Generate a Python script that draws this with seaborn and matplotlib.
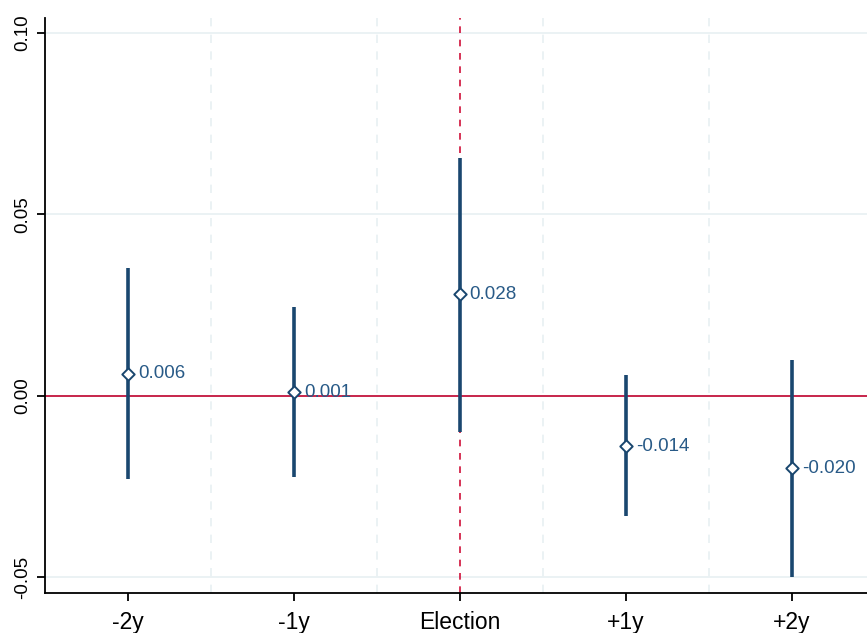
import numpy as np
import pandas as pd
import matplotlib
matplotlib.use("Agg")
import matplotlib.pyplot as plt
import seaborn as sns

# datos
periodos = ["-2y", "-1y", "Election", "+1y", "+2y"]
coef = [0.006, 0.001, 0.028, -0.014, -0.020]
ci_low = [-0.0231, -0.0223, -0.0099, -0.0331, -0.0499]
ci_high = [0.0353, 0.0245, 0.0656, 0.0058, 0.0099]
yticks = [-0.05, 0.00, 0.05, 0.10]
ytick_labels = ["-0.05", "0.00", "0.05", "0.10"]

navy = "#1a476f"
rojo = "#c8254b"
grid_col = "#e8f0f2"

sns.set_style("white")
plt.rcParams["font.family"] = ["Liberation Sans", "DejaVu Sans"]

df = pd.DataFrame({"periodo": periodos, "coef": coef, "lo": ci_low, "hi": ci_high})
df["x"] = np.arange(len(df))

fig = plt.figure(figsize=(8.67, 6.33), dpi=100)
ax = fig.add_axes([0.052, 0.0632, 0.948, 0.9084])

# grid
for y in yticks:
    ax.axhline(y, color=grid_col, lw=1.2, zorder=0)
for xm in np.arange(0.5, len(df) - 0.5, 1.0):
    ax.axvline(xm, color=grid_col, lw=1.2, ls=(0, (5, 5)), zorder=0)

ax.axhline(0, color=rojo, lw=1.4, zorder=1)
ax.axvline(2, color="#d0103a", lw=1.2, ls=(0, (4, 4)), zorder=1)

ax.vlines(df["x"], df["lo"], df["hi"], color=navy, lw=2.6, zorder=2)
sns.scatterplot(data=df, x="x", y="coef", marker="D", s=40, color="white",
                edgecolor=navy, linewidth=1.4, zorder=3, ax=ax, legend=False)

for _, r in df.iterrows():
    ax.annotate(f"{r['coef']:.3f}", (r["x"], r["coef"]), xytext=(7, 0),
                textcoords="offset points", va="center", ha="left",
                fontsize=13.5, color="#285a87")

ax.set_xlim(-0.5, 4.452)
ax.set_ylim(-0.0544, 0.1041)
ax.set_xticks(df["x"])
ax.set_xticklabels(periodos, fontsize=16.5)
ax.set_yticks(yticks)
ax.set_yticklabels(ytick_labels, fontsize=13.5, rotation=90, va="center")
ax.set_xlabel("")
ax.set_ylabel("")

for s in ["top", "right"]:
    ax.spines[s].set_visible(False)
for s in ["left", "bottom"]:
    ax.spines[s].set_color("black")
    ax.spines[s].set_linewidth(1.3)
ax.tick_params(axis="both", direction="out", length=6, width=1.3, color="black",
               labelcolor="black", left=True, bottom=True)
ax.tick_params(axis="x", pad=7)
ax.tick_params(axis="y", pad=4)

plt.savefig("out.png", dpi=100)
